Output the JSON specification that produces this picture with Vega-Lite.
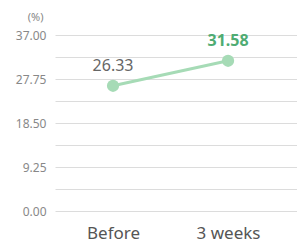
{
  "$schema": "https://vega.github.io/schema/vega-lite/v6.json",
  "autosize": "none",
  "width": 242,
  "height": 176,
  "padding": {"left": 55, "top": 35, "right": 0, "bottom": 37},
  "background": "white",
  "config": {"view": {"stroke": null}, "font": "Noto Sans"},
  "data": {"values": [
    {"period": "Before", "value": 26.33, "label": "26.33", "hl": "no"},
    {"period": "3 weeks", "value": 31.58, "label": "31.58", "hl": "yes"}
  ]},
  "encoding": {
    "x": {"field": "period", "type": "ordinal", "sort": null,
      "scale": {"type": "point", "padding": 0.552, "align": 0.457},
      "axis": {"title": null, "domain": false, "ticks": false, "grid": false, "labelAngle": 0,
        "labelFontSize": 17, "labelColor": "#555", "labelPadding": 14, "labelFont": "Noto Sans"}},
    "y": {"field": "value", "type": "quantitative",
      "scale": {"domain": [0, 37], "nice": false, "zero": true},
      "axis": {"title": "(%)", "titleAngle": 0, "titleAlign": "right", "titleBaseline": "middle",
        "titleX": -12, "titleY": -18, "titleFontSize": 11, "titleFontWeight": "normal", "titleColor": "#888",
        "values": [0, 4.625, 9.25, 13.875, 18.5, 23.125, 27.75, 32.375, 37],
        "labelExpr": "round(datum.value / 4.625) % 2 == 0 ? format(datum.value, '.2f') : ''",
        "domain": false, "ticks": false, "gridColor": "#dcdcdc", "gridWidth": 1,
        "labelFontSize": 12, "labelColor": "#888", "labelPadding": 9}}
  },
  "layer": [
    {"mark": {"type": "line", "color": "#a6dbb6", "strokeWidth": 3}},
    {"mark": {"type": "point", "filled": true, "opacity": 1, "color": "#a6dbb6", "size": 150}},
    {"transform": [{"filter": "datum.hl == 'no'"}],
      "mark": {"type": "text", "dy": -20, "fontSize": 16, "color": "#666666"},
      "encoding": {"text": {"field": "label"}}},
    {"transform": [{"filter": "datum.hl == 'yes'"}],
      "mark": {"type": "text", "dy": -20, "fontSize": 16, "fontWeight": "bold", "color": "#4fac73"},
      "encoding": {"text": {"field": "label"}}}
  ]
}
